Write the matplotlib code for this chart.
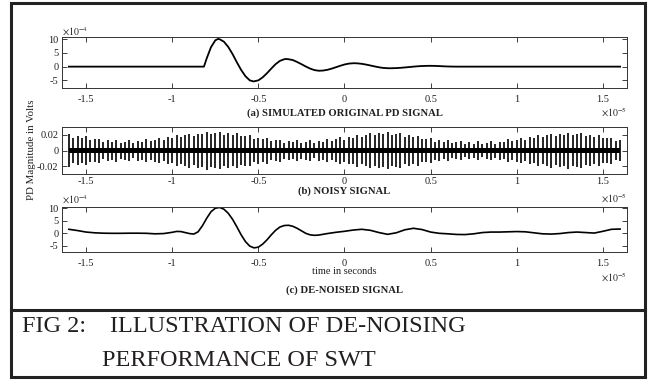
import numpy as np
import matplotlib.pyplot as plt
from matplotlib.patches import Rectangle
from matplotlib.lines import Line2D

plt.rcParams['font.family'] = ['Liberation Serif', 'DejaVu Serif']
plt.rcParams['mathtext.fontset'] = 'stix'
plt.rcParams['axes.unicode_minus'] = False

# time in units of 1e-5 s
# (a) simulated original PD signal, units of 1e-4 V
t_orig = [-1.6, -0.816, -0.8, -0.775, -0.75, -0.734, -0.725, -0.7, -0.675, -0.65,
          -0.625, -0.6, -0.575, -0.55, -0.528, -0.5, -0.475, -0.45, -0.425, -0.4,
          -0.375, -0.35, -0.34, -0.325, -0.3, -0.275, -0.25, -0.225, -0.2, -0.175,
          -0.15, -0.125, -0.1, -0.075, -0.05, -0.025, 0.0, 0.025, 0.054, 0.075,
          0.1, 0.125, 0.15, 0.175, 0.2, 0.225, 0.26, 0.3, 0.325, 0.35, 0.375,
          0.4, 0.425, 0.45, 0.49, 0.525, 0.55, 0.575, 0.6, 0.625, 0.65, 1.6]
v_orig = [0.0, 0.0, 3.0, 7.1, 9.6, 10.1, 10.0, 9.1, 7.2, 4.6,
          1.6, -1.2, -3.5, -5.0, -5.4, -5.0, -3.9, -2.4, -0.7, 0.9,
          2.1, 2.7, 2.8, 2.7, 2.4, 1.7, 0.9, 0.05, -0.7, -1.25,
          -1.5, -1.43, -1.17, -0.74, -0.22, 0.31, 0.78, 1.11, 1.25, 1.2,
          1.03, 0.76, 0.42, 0.08, -0.24, -0.47, -0.6, -0.53, -0.43, -0.3, -0.15,
          0.0, 0.13, 0.23, 0.3, 0.27, 0.2, 0.12, 0.06, 0.02, 0.0, 0.0]

# (b) noisy signal: spike amplitudes, units of 1e-2 V, one every 0.025
spike_amp = [2.05, 1.63, 1.8, 1.58, 1.8, 1.38, 1.45, 1.53, 1.1, 1.31,
             1.13, 1.39, 1.0, 1.16, 1.33, 0.99, 1.25, 1.15, 1.5, 1.2,
             1.4, 1.63, 1.35, 1.68, 1.6, 1.98, 1.7, 1.93, 2.15, 1.85,
             2.15, 2.05, 2.4, 2.05, 2.2, 2.35, 2.0, 2.2, 2.0, 2.25,
             1.85, 1.9, 1.95, 1.5, 1.65, 1.43, 1.65, 1.23, 1.3, 1.41,
             1.03, 1.24, 1.05, 1.35, 1.0, 1.15, 1.3, 0.99, 1.28, 1.16,
             1.5, 1.23, 1.45, 1.68, 1.4, 1.73, 1.65, 2.03, 1.75, 1.98,
             2.2, 1.93, 2.25, 2.08, 2.35, 1.98, 2.1, 2.18, 1.75, 1.93,
             1.7, 1.9, 1.45, 1.5, 1.55, 1.14, 1.33, 1.11, 1.35, 0.96,
             1.08, 1.19, 0.8, 1.05, 0.9, 1.2, 0.85, 1.03, 1.2, 0.88,
             1.15, 1.08, 1.45, 1.18, 1.4, 1.63, 1.35, 1.68, 1.6, 1.98,
             1.7, 1.93, 2.15, 1.83, 2.1, 1.98, 2.3, 1.93, 2.05, 2.18,
             1.8, 1.98, 1.75, 1.98, 1.55, 1.6, 1.65, 1.2, 1.35]
noise_band = 0.3

# (c) de-noised signal, units of 1e-4 V
t_den = [-1.6, -1.55, -1.5, -1.45, -1.4, -1.35, -1.3, -1.25, -1.2, -1.15,
         -1.1, -1.05, -1.0, -0.975, -0.95, -0.925, -0.9, -0.875, -0.85, -0.825,
         -0.8, -0.775, -0.75, -0.725, -0.7, -0.675, -0.65, -0.625, -0.6, -0.575,
         -0.55, -0.525, -0.5, -0.475, -0.45, -0.425, -0.4, -0.375, -0.35, -0.325,
         -0.3, -0.275, -0.25, -0.225, -0.2, -0.175, -0.15, -0.125, -0.1, -0.05,
         0.0, 0.05, 0.1, 0.15, 0.2, 0.25, 0.3, 0.35, 0.4, 0.45,
         0.5, 0.55, 0.6, 0.65, 0.7, 0.75, 0.8, 0.85, 0.9, 0.95,
         1.0, 1.05, 1.1, 1.15, 1.2, 1.25, 1.3, 1.35, 1.4, 1.45,
         1.5, 1.55, 1.6]
v_den = [1.6, 1.1, 0.5, 0.2, 0.05, 0.0, 0.0, 0.05, 0.05, 0.0,
         -0.2, -0.1, 0.4, 0.75, 0.7, 0.3, -0.1, -0.3, 0.6, 3.0,
         6.0, 8.6, 10.0, 10.3, 9.6, 8.0, 5.6, 2.6, -0.6, -3.3,
         -5.1, -5.8, -5.5, -4.3, -2.6, -0.6, 1.2, 2.5, 3.1, 3.2,
         2.8, 2.0, 1.0, 0.0, -0.6, -0.8, -0.7, -0.4, -0.1, 0.4,
         0.8, 1.3, 1.6, 1.2, 0.3, -0.4, 0.2, 1.4, 2.0, 1.5,
         0.5, 0.0, -0.2, -0.45, -0.5, -0.2, 0.3, 0.5, 0.5, 0.6,
         0.7, 0.6, 0.2, -0.2, -0.3, -0.1, 0.3, 0.5, 0.3, 0.1,
         0.8, 1.6, 1.7]

xticks = [-1.5, -1, -0.5, 0, 0.5, 1, 1.5]
xtick_labels = ['-1.5', '-1', '-0.5', '0', '0.5', '1', '1.5']
yticks_small = [-5, 0, 5, 10]
ytick_labels_small = ['-5', '0', '5', '10']
yticks_noisy = [-2, 0, 2]
ytick_labels_noisy = ['-0.02', '0', '0.02']

W, H = 648, 381
ink = '#231f20'
fig = plt.figure(figsize=(W / 100, H / 100), dpi=100)


def fx(px):
    return px / W


def fy(py):
    return 1 - py / H


def make_axes(top, bottom, xpad):
    ax = fig.add_axes([fx(62), fy(bottom), fx(627) - fx(62), fy(top) - fy(bottom)])
    ax.set_xlim(-1.64, 1.64)
    ax.set_xticks(xticks)
    ax.set_xticklabels(xtick_labels)
    ax.tick_params(direction='in', length=3.5, width=0.6, top=True, right=True,
                   labelsize=7.5, colors=ink)
    ax.tick_params(axis='x', pad=xpad)
    ax.tick_params(axis='y', pad=2.5)
    for s in ax.spines.values():
        s.set_linewidth(0.7)
        s.set_color('#333333')
    return ax


ax1 = make_axes(37.3, 88.3, 4.5)
ax1.plot(t_orig, v_orig, color='k', lw=1.3)
ax1.set_ylim(-7.9, 10.7)
ax1.set_yticks(yticks_small)
ax1.set_yticklabels(ytick_labels_small)

ax2 = make_axes(127, 174.3, 2)
spike_t = np.linspace(-1.6, 1.6, len(spike_amp))
amp = np.array(spike_amp)
ax2.fill_between(spike_t, -noise_band, noise_band, color='k', lw=0)
ax2.vlines(spike_t, -amp, amp, color='k', lw=1.2)
ax2.set_ylim(-3, 3)
ax2.set_yticks(yticks_noisy)
ax2.set_yticklabels(ytick_labels_noisy)

ax3 = make_axes(206.7, 252.4, 4.5)
ax3.plot(t_den, v_den, color='k', lw=1.2)
ax3.set_ylim(-7.6, 10.6)
ax3.set_yticks(yticks_small)
ax3.set_yticklabels(ytick_labels_small)

# exponent labels
fig.text(fx(62), fy(32), r'$\times10^{-4}$', fontsize=7, color=ink, va='center')
fig.text(fx(62), fy(200), r'$\times10^{-4}$', fontsize=7, color=ink, va='center')
for py in (112, 198, 277):
    fig.text(fx(627), fy(py), r'$\times10^{-5}$', fontsize=7, color=ink,
             va='center', ha='right')

# panel captions
cx = fx(344.5)
fig.text(cx, fy(113), '(a) SIMULATED ORIGINAL PD SIGNAL', fontsize=7.7,
         fontweight='bold', ha='center', va='center', color=ink)
fig.text(cx, fy(191.5), '(b) NOISY SIGNAL', fontsize=7.7,
         fontweight='bold', ha='center', va='center', color=ink)
fig.text(cx, fy(271.5), 'time in seconds', fontsize=7.5, ha='center', va='center', color=ink)
fig.text(cx, fy(290), '(c) DE-NOISED SIGNAL', fontsize=7.7,
         fontweight='bold', ha='center', va='center', color=ink)
fig.text(fx(31), fy(150), 'PD Magnitude in Volts', fontsize=7.8, rotation=90,
         ha='center', va='center', color=ink)

# frame and figure caption
fig.patches.append(Rectangle((fx(11), fy(377)), fx(645) - fx(11), fy(3) - fy(377),
                             transform=fig.transFigure, fill=False, lw=2.2,
                             edgecolor='#222222'))
fig.lines.append(Line2D([fx(11), fx(645)], [fy(310), fy(310)],
                        transform=fig.transFigure, lw=2.2, color='#222222'))
fig.text(fx(22), fy(332), 'FIG 2:', fontsize=17.5, color=ink, va='baseline')
fig.text(fx(110), fy(332), 'ILLUSTRATION OF DE-NOISING', fontsize=17.5,
         color=ink, va='baseline')
fig.text(fx(102), fy(366), 'PERFORMANCE OF SWT', fontsize=17.5,
         color=ink, va='baseline')

fig.savefig('out.png', dpi=100)
